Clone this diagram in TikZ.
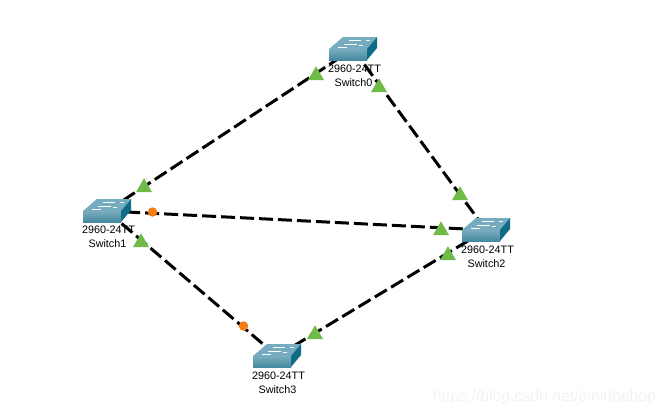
\documentclass[tikz,border=0pt]{standalone}
\usepackage{fontspec}
\setmainfont{Liberation Sans}
\usetikzlibrary{shapes.geometric}
\definecolor{swFront}{RGB}{88,152,174}
\definecolor{swFrontB}{RGB}{70,136,160}
\definecolor{swTop}{RGB}{118,172,192}
\definecolor{swSide}{RGB}{14,108,134}
\definecolor{figG}{RGB}{112,186,72}
\definecolor{figO}{RGB}{245,124,20}
\begin{document}
\begin{tikzpicture}[x=1pt,y=-1pt,
  swpoint/.style={inner sep=0pt,minimum size=0pt},
  link/.style={line width=3pt,dash pattern=on 14pt off 5pt},
  upmark/.style={regular polygon,regular polygon sides=3,fill=figG,inner sep=0pt,minimum size=18.5pt},
  downmark/.style={circle,fill=figO,inner sep=0pt,minimum size=9.5pt},
  swlabel/.style={inner sep=0pt,font=\fontsize{10.8pt}{12pt}\selectfont}]
\useasboundingbox (0,0) rectangle (666,416);
% switch positions
\foreach \i/\x/\y in {0/353/49,1/107/211,2/486/230,3/277/356} \node[swpoint] (sw\i) at (\x,\y) {};
% links
\draw[link] (sw1)--(sw0);
\draw[link] (sw0)--(sw2);
\draw[link] (sw1)--(sw2);
\draw[link] (sw1)--(sw3);
\draw[link] (sw3)--(sw2);
% switch icons
\foreach \i in {0,1,2,3} {
\begin{scope}[shift={(sw\i)}]
\fill[swTop] (-24,0)--(-10,-12)--(24,-12)--(14,0)--cycle;
\shade[top color=swFront!80!white,bottom color=swFrontB] (-24,0) rectangle (14,11);
\fill[swSide] (14,0)--(24,-12)--(24,-1)--(14,11)--cycle;
\draw[white,line width=0.8pt] (-4,-9)--(8,-9) (-9,-5)--(4,-5) (-15,-2)--(-6,-2) (13,-9)--(17,-9) (6,-4)--(10,-4);
\end{scope}}
% labels
\foreach \i/\x/\y/\n in {0/354.5/68.5/0,1/108.5/229.5/1,2/487.5/249.5/2,3/278.5/375.5/3} {
\node[swlabel] (model\i) at (\x,\y) {2960-24TT};
\node[swlabel] (name\i) at (\x-1,\y+14.5) {Switch\n};
}
% link state marks
\foreach \i/\x/\y in {a/316/75.5,b/379/87.5,c/144/187.5,d/141/242.5,e/460/195.5,f/441/230.5,g/448/255.5,h/315/334.5} \node[upmark] (up\i) at (\x,\y) {};
\node[downmark] (downa) at (152.5,212) {};
\node[downmark] (downb) at (243.5,326) {};
\node[inner sep=0pt,text=black!5,font=\fontsize{15.8pt}{18pt}\selectfont] (wmark) at (544.5,397) {https://blog.csdn.net/eininbebop};
\end{tikzpicture}
\end{document}
